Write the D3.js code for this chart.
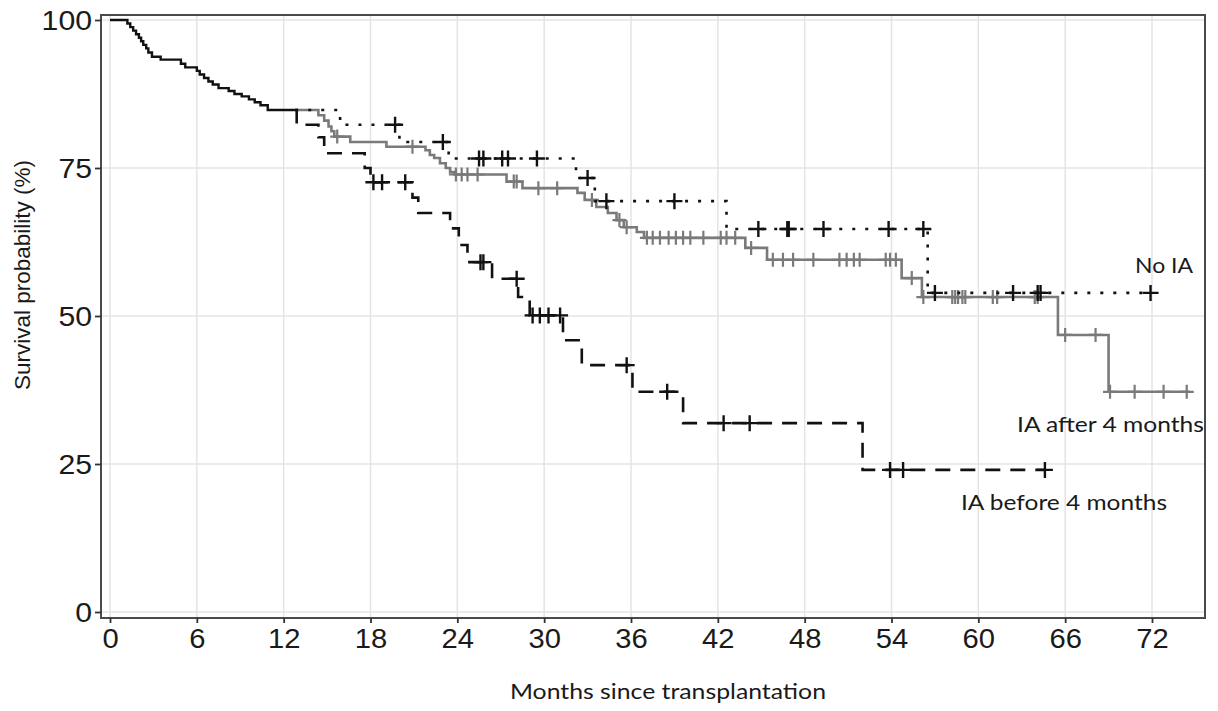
<!DOCTYPE html>
<html><head><meta charset="utf-8">
<script src="https://cdn.jsdelivr.net/npm/d3@7"></script>
<style>body{margin:0;background:#fff}</style>
</head><body>
<svg id="chart" width="1218" height="711"></svg>
<script>
// ---------- data ----------
const xTicks = [0, 6, 12, 18, 24, 30, 36, 42, 48, 54, 60, 66, 72];
const yTicks = [0, 25, 50, 75, 100];

// shared curve up to the landmark
const commonTime = [0, 1.2, 1.4, 1.6, 1.8, 2.0, 2.15, 2.3, 2.5, 2.65, 2.9, 3.5, 4.9, 5.2, 6.0, 6.2, 6.5, 6.8, 7.1, 7.5, 8.2, 8.6, 9.1, 9.6, 10.0, 10.4, 10.9];
const commonSurv = [100, 99.4, 98.8, 98.2, 97.6, 97.0, 96.4, 95.8, 95.2, 94.5, 93.8, 93.3, 92.6, 92.0, 91.4, 90.8, 90.2, 89.6, 89.1, 88.5, 88.0, 87.5, 87.1, 86.6, 86.1, 85.6, 84.8];
const commonEnd = 12.8;

// No IA (dotted)
const noIATime = [12.8, 15.9, 20.0, 23.4, 32.2, 33.5, 42.6, 56.5];
const noIASurv = [84.8, 82.3, 79.4, 76.6, 73.3, 69.4, 64.7, 53.9];
const noIAEnd = 71.9;
const noIACensor = [19.7, 23.0, 25.5, 25.8, 27.1, 27.5, 29.5, 33.0, 34.3, 39.0, 44.8, 46.8, 46.9, 49.3, 53.8, 56.2, 57.0, 62.4, 64.1, 64.3, 71.9];

// IA after 4 months (grey solid)
const afterTime = [12.8, 14.4, 14.8, 15.1, 15.3, 15.5, 16.6, 19.1, 21.8, 22.1, 22.4, 22.8, 23.2, 23.5, 23.8, 27.4, 28.5, 32.3, 32.8, 33.6, 34.4, 35.0, 35.5, 36.4, 36.9, 43.9, 45.4, 54.7, 56.1, 65.5, 69.0];
const afterSurv = [84.8, 83.9, 83.0, 82.0, 81.2, 80.3, 79.4, 78.6, 78.0, 77.2, 76.7, 75.8, 75.0, 74.3, 73.9, 72.7, 71.6, 70.8, 69.6, 68.4, 67.4, 66.2, 65.0, 64.2, 63.2, 61.5, 59.5, 56.4, 53.2, 46.8, 37.2];
const afterEnd = 74.6;
const afterCensor = [15.7, 20.9, 23.9, 24.3, 24.7, 25.4, 27.9, 28.1, 29.6, 30.9, 33.3, 35.2, 35.7, 37.1, 37.5, 38.0, 38.6, 39.1, 39.6, 40.1, 41.0, 42.2, 42.6, 43.2, 44.3, 45.8, 46.5, 47.2, 48.6, 50.4, 50.9, 51.4, 51.8, 53.6, 53.9, 54.3, 55.4, 56.2, 58.2, 58.4, 58.6, 58.9, 59.1, 61.0, 61.3, 63.9, 64.1, 66.0, 68.1, 69.1, 70.8, 72.8, 74.4];

// IA before 4 months (dashed)
const beforeTime = [12.8, 12.9, 14.4, 14.8, 17.6, 18.0, 20.9, 21.3, 23.5, 24.1, 24.7, 26.4, 28.2, 29.0, 31.3, 32.6, 36.1, 39.6, 52.0];
const beforeSurv = [84.8, 82.3, 80.2, 77.5, 75.0, 72.6, 70.0, 67.4, 64.8, 62.0, 59.1, 56.3, 53.2, 50.1, 45.9, 41.7, 37.2, 31.9, 24.0];
const beforeEnd = 64.6;
const beforeCensor = [18.2, 18.8, 20.4, 25.6, 25.8, 28.1, 29.2, 29.7, 30.3, 31.1, 35.7, 38.5, 42.4, 44.2, 53.9, 54.8, 64.6];

const groupLabels = ["No IA", "IA after 4 months", "IA before 4 months"];
const xTitle = "Months since transplantation";
const yTitle = "Survival probability (%)";

// ---------- drawing ----------
const svg = d3.select("#chart");
const x = d3.scaleLinear().domain([0, 72]).range([110, 1152]);
const y = d3.scaleLinear().domain([0, 100]).range([612, 20]);
const panel = {left: 101, right: 1205, top: 15, bottom: 618};

svg.append("rect").attr("width", 1218).attr("height", 711).attr("fill", "#fff");

// grid
const grid = svg.append("g");
grid.selectAll("line.v").data(xTicks).join("line")
  .attr("x1", d => x(d)).attr("x2", d => x(d))
  .attr("y1", panel.top).attr("y2", panel.bottom)
  .attr("stroke", "#e4e4e4").attr("stroke-width", 1.5);
grid.selectAll("line.h").data(yTicks).join("line")
  .attr("y1", d => y(d)).attr("y2", d => y(d))
  .attr("x1", panel.left).attr("x2", panel.right)
  .attr("stroke", "#e4e4e4").attr("stroke-width", 1.5);

function stepPoints(times, surv, end) {
  const pts = times.map((t, i) => [t, surv[i]]);
  pts.push([end, surv[surv.length - 1]]);
  return pts;
}
function survAt(times, surv, t) {
  let v = surv[0];
  for (let i = 0; i < times.length; i++) if (times[i] <= t) v = surv[i];
  return v;
}
const line = d3.line().x(d => x(d[0])).y(d => y(d[1])).curve(d3.curveStepAfter);
const plot = svg.append("g");

function drawCurve(times, surv, end, style) {
  plot.append("path").datum(stepPoints(times, surv, end))
    .attr("d", line).attr("fill", "none")
    .attr("stroke", style.color).attr("stroke-width", style.width)
    .attr("stroke-dasharray", style.dash || null);
}
function drawCensor(times, surv, censor, style) {
  plot.append("g").selectAll("path").data(censor).join("path")
    .attr("d", t => {
      const cx = x(t), cy = y(survAt(times, surv, t)), h = style.half;
      return `M${cx - h},${cy}H${cx + h}M${cx},${cy - h}V${cy + h}`;
    })
    .attr("stroke", style.color).attr("stroke-width", style.cw).attr("fill", "none");
}

const greyStyle = {color: "#7a7a7a", width: 2.6, half: 7, cw: 2.2};
const dotStyle = {color: "#111", width: 2.6, dash: "3,10", half: 8, cw: 2.4};
const dashStyle = {color: "#111", width: 2.6, dash: "15,10", half: 8, cw: 2.4};

drawCurve(afterTime, afterSurv, afterEnd, greyStyle);
drawCensor(afterTime, afterSurv, afterCensor, greyStyle);
drawCurve(noIATime, noIASurv, noIAEnd, dotStyle);
drawCurve(beforeTime, beforeSurv, beforeEnd, dashStyle);
drawCensor(noIATime, noIASurv, noIACensor, dotStyle);
drawCensor(beforeTime, beforeSurv, beforeCensor, dashStyle);
drawCurve(commonTime, commonSurv, commonEnd, {color: "#111", width: 2.4});

// panel border
svg.append("rect")
  .attr("x", panel.left).attr("y", panel.top)
  .attr("width", panel.right - panel.left).attr("height", panel.bottom - panel.top)
  .attr("fill", "none").attr("stroke", "#4a4a4a").attr("stroke-width", 2);

// axes
const xAxis = svg.append("g").attr("transform", `translate(0,${panel.bottom})`)
  .call(d3.axisBottom(x).tickValues(xTicks).tickSize(5).tickPadding(4));
const yAxis = svg.append("g").attr("transform", `translate(${panel.left},0)`)
  .call(d3.axisLeft(y).tickValues(yTicks).tickSize(6).tickPadding(4));
[xAxis, yAxis].forEach(a => {
  a.select(".domain").remove();
  a.selectAll(".tick line").attr("stroke", "#333").attr("stroke-width", 1.8);
  a.selectAll(".tick text")
    .attr("font-family", "'Liberation Sans', Arial, sans-serif")
    .attr("font-size", 27).attr("fill", "#1a1a1a");
});
xAxis.selectAll(".tick text").attr("dy", null).attr("y", 30)
  .attr("transform", "scale(1.08,1)");
yAxis.selectAll(".tick text").attr("dy", "0.36em").attr("x", -8)
  .attr("transform", "scale(1.12,1)");

// titles
svg.append("text")
  .attr("transform", "translate(30,275) rotate(-90)")
  .attr("text-anchor", "middle")
  .attr("font-family", "'Liberation Sans', Arial, sans-serif")
  .attr("font-size", 21.5).attr("fill", "#1a1a1a")
  .attr("textLength", 230).attr("lengthAdjust", "spacingAndGlyphs")
  .text(yTitle);

svg.append("text")
  .attr("x", 668).attr("y", 699)
  .attr("text-anchor", "middle")
  .attr("font-family", "Lato, sans-serif")
  .attr("font-size", 21).attr("fill", "#1a1a1a")
  .attr("textLength", 316).attr("lengthAdjust", "spacingAndGlyphs")
  .text(xTitle);

// group labels
const labelPos = [
  {x: 1135, y: 273, w: 58},
  {x: 1017, y: 432, w: 187},
  {x: 961, y: 510, w: 206}
];
svg.append("g").selectAll("text").data(groupLabels).join("text")
  .attr("x", (d, i) => labelPos[i].x).attr("y", (d, i) => labelPos[i].y)
  .attr("font-family", "Lato, sans-serif")
  .attr("font-size", 22).attr("fill", "#1a1a1a")
  .attr("textLength", (d, i) => labelPos[i].w).attr("lengthAdjust", "spacingAndGlyphs")
  .text(d => d);
</script>
</body></html>
